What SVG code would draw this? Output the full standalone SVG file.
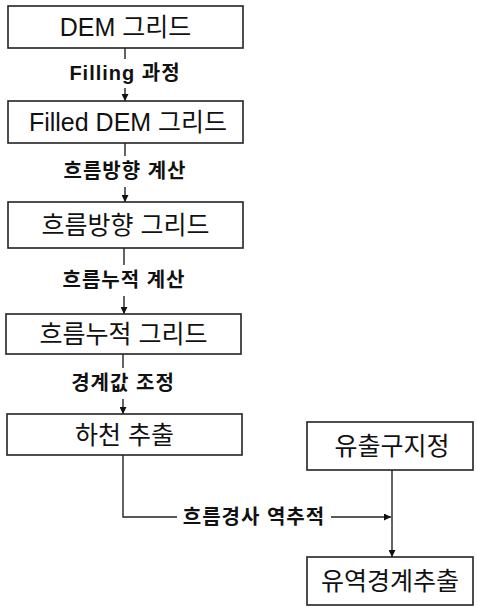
<svg xmlns="http://www.w3.org/2000/svg" width="477" height="608" viewBox="0 0 477 608">
<defs>
<style>
.box{fill:#fff;stroke:#222;stroke-width:1.6}
.bt{font-family:"Liberation Sans","Noto Sans CJK KR",sans-serif;font-size:25px;fill:#111;text-anchor:middle;dominant-baseline:central}
.lt{font-family:"Liberation Sans","Noto Sans CJK KR",sans-serif;font-size:20px;fill:#111;text-anchor:middle;dominant-baseline:central;font-weight:bold;letter-spacing:1px}
.ln{fill:none;stroke:#222;stroke-width:1.4}
</style>
<marker id="ah" viewBox="0 0 10 10" refX="10" refY="5" markerWidth="7" markerHeight="7" orient="auto" markerUnits="userSpaceOnUse">
<path d="M0,0 L10,5 L0,10 z" fill="#111"/>
</marker>
</defs>
<rect width="477" height="608" fill="#fff"/>
<g id="connectors">
<line class="ln" x1="125" y1="48" x2="125" y2="59"/>
<text class="lt" x="125" y="73">Filling 과정</text>
<line class="ln" x1="125" y1="88" x2="125" y2="101" marker-end="url(#ah)"/>
<line class="ln" x1="125" y1="143" x2="125" y2="156"/>
<text class="lt" x="125" y="171">흐름방향 계산</text>
<line class="ln" x1="125" y1="187" x2="125" y2="202" marker-end="url(#ah)"/>
<line class="ln" x1="124" y1="248" x2="124" y2="265"/>
<text class="lt" x="124" y="280">흐름누적 계산</text>
<line class="ln" x1="124" y1="296" x2="124" y2="314" marker-end="url(#ah)"/>
<line class="ln" x1="123" y1="354" x2="123" y2="368"/>
<text class="lt" x="123" y="383">경계값 조정</text>
<line class="ln" x1="123" y1="399" x2="123" y2="414" marker-end="url(#ah)"/>
<polyline class="ln" points="123,455 123,517 177,517"/>
<text class="lt" x="254" y="517">흐름경사 역추적</text>
<line class="ln" x1="331" y1="517" x2="391" y2="517" marker-end="url(#ah)"/>
<line class="ln" x1="392" y1="470" x2="392" y2="557" marker-end="url(#ah)"/>
</g>
<g id="n1"><rect class="box" x="8" y="6" width="235" height="42"/><text class="bt" x="125.5" y="27">DEM 그리드</text></g>
<g id="n2"><rect class="box" x="8" y="101" width="235" height="42"/><text class="bt" x="128" y="122">Filled DEM 그리드</text></g>
<g id="n3"><rect class="box" x="8" y="202" width="235" height="46"/><text class="bt" x="125.5" y="225">흐름방향 그리드</text></g>
<g id="n4"><rect class="box" x="6" y="314" width="235" height="40"/><text class="bt" x="123.5" y="334">흐름누적 그리드</text></g>
<g id="n5"><rect class="box" x="7" y="414" width="235" height="41"/><text class="bt" x="124.5" y="434.5">하천 추출</text></g>
<g id="n6"><rect class="box" x="307" y="422" width="166" height="48"/><text class="bt" x="392" y="446">유출구지정</text></g>
<g id="n7"><rect class="box" x="307" y="557" width="166" height="48"/><text class="bt" x="390" y="581">유역경계추출</text></g>
</svg>
